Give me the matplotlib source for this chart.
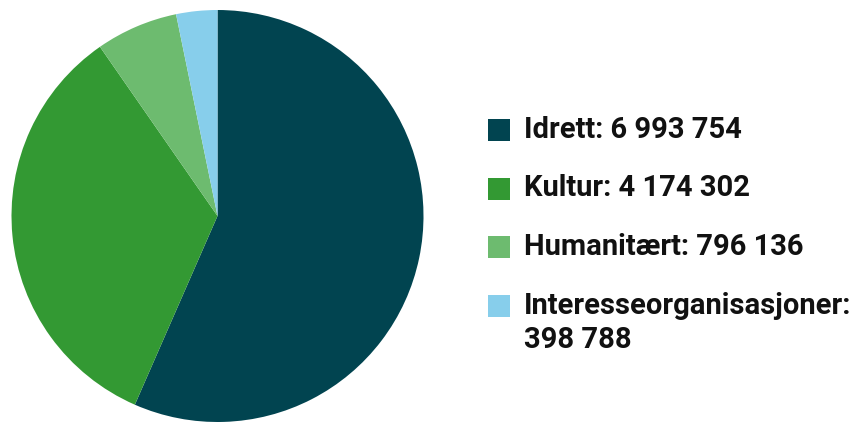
import matplotlib
matplotlib.use("Agg")
import matplotlib.pyplot as plt
from matplotlib.patches import Rectangle

categories = ["Idrett", "Kultur", "Humanitært", "Interesseorganisasjoner"]
values = [6993754, 4174302, 796136, 398788]
colors = ["#014450", "#339933", "#6dbb6f", "#87ceeb"]

W, H = 859, 422
fig = plt.figure(figsize=(W / 100, H / 100), dpi=100)
fig.patch.set_facecolor("white")

# pie placed by pixel centre and radius
cx, cy, r = 217.5, 216, 206
ax = fig.add_axes([(cx - r) / W, (H - cy - r) / H, 2 * r / W, 2 * r / H])
ax.pie(values, colors=colors, startangle=90, counterclock=False,
       radius=1, wedgeprops=dict(linewidth=0))
ax.set_xlim(-1, 1)
ax.set_ylim(-1, 1)
ax.set_aspect("equal")
ax.axis("off")


def fmt(v):
    return f"{v:,}".replace(",", " ")


labels = [[f"{c}: {fmt(v)}"] for c, v in zip(categories, values)]
labels[3] = [f"{categories[3]}:", fmt(values[3])]

sq = 22
x_sq = 488
x_txt = 524
row_y = [130, 188.5, 247, 306]
line_gap = 34
for i, (lines, col) in enumerate(zip(labels, colors)):
    yc = row_y[i]
    fig.add_artist(Rectangle((x_sq / W, (H - yc - sq / 2) / H), sq / W, sq / H,
                             transform=fig.transFigure, facecolor=col,
                             edgecolor="none"))
    for k, line in enumerate(lines):
        fig.text(x_txt / W, (H - yc - k * line_gap) / H, line, ha="left",
                 va="center", fontsize=21, fontweight="bold", family="Roboto",
                 color="#111111")

fig.savefig("out.png", dpi=100, facecolor="white")
